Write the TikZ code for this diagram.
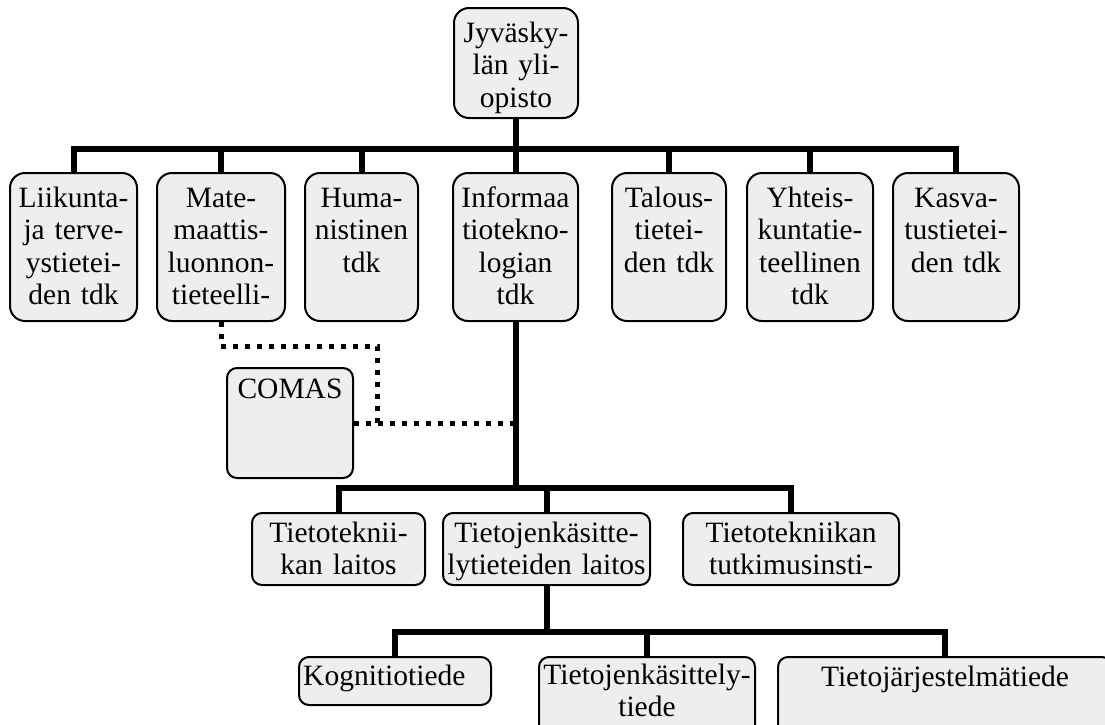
\documentclass[tikz,border=0pt]{standalone}
\usepackage{fontspec}
\setmainfont{Liberation Serif}
\begin{document}
\begin{tikzpicture}[x=1pt,y=-1pt,
  bigbox/.style={draw, line width=2pt, fill=gray!13, rounded corners=15pt, inner sep=0pt},
  smallbox/.style={draw, line width=2pt, fill=gray!13, rounded corners=10pt, inner sep=0pt},
  txtfont/.style={font=\fontsize{29.5}{32.5}\selectfont},
  lbl/.style={txtfont, inner sep=0pt, text width=300pt, align=center, anchor=base},
  conn/.style={line width=6pt},
  dots/.style={line width=5pt, dash pattern=on 5pt off 7pt}]
\useasboundingbox (0,0) rectangle (1105,724);
% boxes
\node[bigbox, minimum width=124pt, minimum height=110pt] (top) at (516,63) {};
\node[bigbox, minimum width=127pt, minimum height=148pt] (liik) at (73.5,247) {};
\node[bigbox, minimum width=128pt, minimum height=148pt] (mate) at (221,247) {};
\node[bigbox, minimum width=113pt, minimum height=148pt] (hum) at (361.5,247) {};
\node[bigbox, minimum width=125pt, minimum height=148pt] (info) at (515.5,247) {};
\node[bigbox, minimum width=114pt, minimum height=148pt] (tal) at (669,247) {};
\node[bigbox, minimum width=126pt, minimum height=148pt] (yht) at (810,247) {};
\node[bigbox, minimum width=126pt, minimum height=148pt] (kas) at (956,247) {};
\node[smallbox, minimum width=126pt, minimum height=110pt] (comas) at (290,423) {};
\node[smallbox, minimum width=173pt, minimum height=72pt] (tl) at (338.5,549) {};
\node[smallbox, minimum width=207pt, minimum height=72pt] (tk) at (546.5,549) {};
\node[smallbox, minimum width=216pt, minimum height=72pt] (tti) at (791,549) {};
\node[smallbox, minimum width=192pt, minimum height=48pt] (kog) at (395,681) {};
\node[smallbox, minimum width=216pt, minimum height=88pt] (tkt) at (647,701) {};
\node[smallbox, minimum width=334pt, minimum height=88pt] (tjs) at (945,701) {};
% texts
\node[lbl] (ttop) at (516,42) {Jyväsky-\\län yli-\\opisto};
\node[lbl] (tliik) at (73.5,207) {Liikunta-\\ja terve-\\ystietei-\\den tdk};
\node[lbl] (tmate) at (221,207) {Mate-\\maattis-\\luonnon-\\tieteelli-};
\node[lbl] (thum) at (361.5,207) {Huma-\\nistinen\\tdk};
\node[lbl] (tinfo) at (515.5,207) {Informaa\\tiotekno-\\logian\\tdk};
\node[lbl] (ttal) at (669,207) {Talous-\\tietei-\\den tdk};
\node[lbl] (tyht) at (810,207) {Yhteis-\\kuntatie-\\teellinen\\tdk};
\node[lbl] (tkas) at (956,207) {Kasva-\\tustietei-\\den tdk};
\node[lbl] (tcomas) at (290,398) {COMAS};
\node[lbl] (ttl) at (338.5,542) {Tietoteknii-\\kan laitos};
\node[lbl] (ttk) at (546.5,542) {Tietojenkäsitte-\\lytieteiden laitos};
\node[lbl] (ttti) at (791,542) {Tietotekniikan\\tutkimusinsti-};
\node[txtfont, inner sep=0pt, anchor=base west] (tkog) at (303,685) {Kognitiotiede};
\node[lbl] (ttkt) at (647,684) {Tietojenkäsittely-\\tiede};
\node[lbl] (ttjs) at (945,686) {Tietojärjestelmätiede};
% connectors
\coordinate (b1) at (516,150);
\coordinate (b2) at (516,489);
\coordinate (b3) at (546,633);
\draw[conn] (top.south) -- (b1);
\draw[conn] (liik.north) -- ++(0,-23) -| (kas.north);
\draw[conn] (mate.north) -- (mate.north |- b1);
\draw[conn] (hum.north) -- (hum.north |- b1);
\draw[conn] (info.north) -- (info.north |- b1);
\draw[conn] (tal.north) -- (tal.north |- b1);
\draw[conn] (yht.north) -- (yht.north |- b1);
\draw[conn] (info.south) -- (info.south |- b2);
\draw[conn] (tl.north) -- ++(0,-24) -| (tti.north);
\draw[conn] (tk.north) -- (tk.north |- b2);
\draw[conn] (tk.south) -- (tk.south |- b3);
\draw[conn] (kog.north) -- ++(0,-24) -| (tjs.north);
\draw[conn] (tkt.north) -- (tkt.north |- b3);
\coordinate (dj) at (377,423);
\draw[dots] (mate.south) -- ++(0,24) -| (dj);
\draw[dots] (comas.east) -- (comas.east -| info.south);
\end{tikzpicture}
\end{document}
